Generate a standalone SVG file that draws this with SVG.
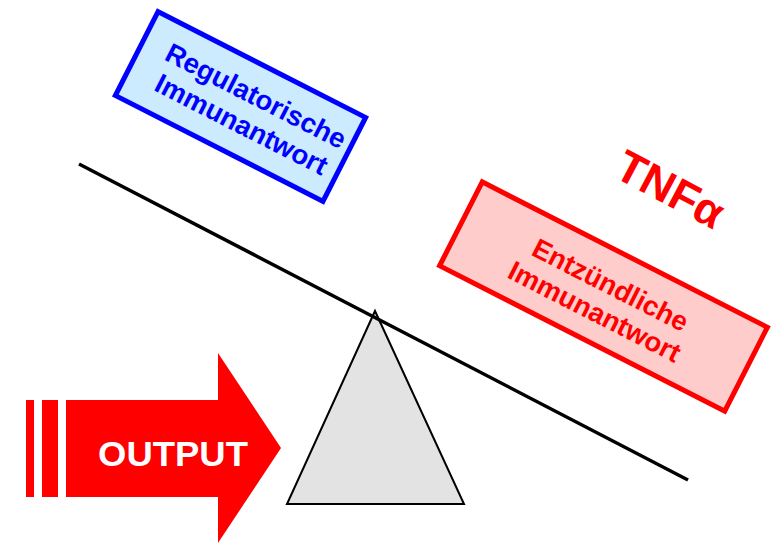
<svg xmlns="http://www.w3.org/2000/svg" width="777" height="543" viewBox="0 0 777 543">
  <style>
    text { font-family: "Liberation Sans", Arial, sans-serif; font-weight: bold; text-anchor: middle; }
    .blue-box { fill: #CCEBFF; stroke: #0000FF; stroke-width: 5; }
    .red-box { fill: #FFCCCC; stroke: #FF0000; stroke-width: 5; }
    .blue-txt { fill: #0000FF; font-size: 27.5px; }
    .red-txt { fill: #FF0000; font-size: 27.5px; }
  </style>
  <rect width="777" height="543" fill="#FFFFFF"/>
  <g id="output-arrow">
    <rect x="26" y="400" width="8" height="97" fill="#FF0000"/>
    <rect x="42" y="400" width="16" height="97" fill="#FF0000"/>
    <polygon points="66,400 218,400 218,353 281,448 218,543 218,497 66,497" fill="#FF0000"/>
    <text x="173" y="466" fill="#FFFFFF" font-size="35" textLength="150" lengthAdjust="spacingAndGlyphs">OUTPUT</text>
  </g>
  <g id="fulcrum">
    <polygon points="375,311 464,504 287,504" fill="#E3E3E3" stroke="#000000" stroke-width="2"/>
  </g>
  <g id="connectors">
    <line x1="79" y1="164" x2="688" y2="480" stroke="#000000" stroke-width="3.5"/>
  </g>
  <g id="regulatorisch" transform="translate(240.5,106.5) rotate(27)">
    <rect class="blue-box" x="-116.5" y="-47" width="233" height="94"/>
    <text class="blue-txt" x="9" y="-7">Regulatorische</text>
    <text class="blue-txt" x="9" y="25">Immunantwort</text>
  </g>
  <g id="entzuendlich" transform="translate(603.5,296.5) rotate(27)">
    <rect class="red-box" x="-160" y="-47" width="320" height="94"/>
    <text class="red-txt" x="1" y="-4">Entzündliche</text>
    <text class="red-txt" x="-1" y="27">Immunantwort</text>
  </g>
  <g id="tnfa">
    <text transform="translate(663,203) rotate(28)" x="0" y="0" fill="#FF0000" font-size="45">TNFα</text>
  </g>
</svg>
